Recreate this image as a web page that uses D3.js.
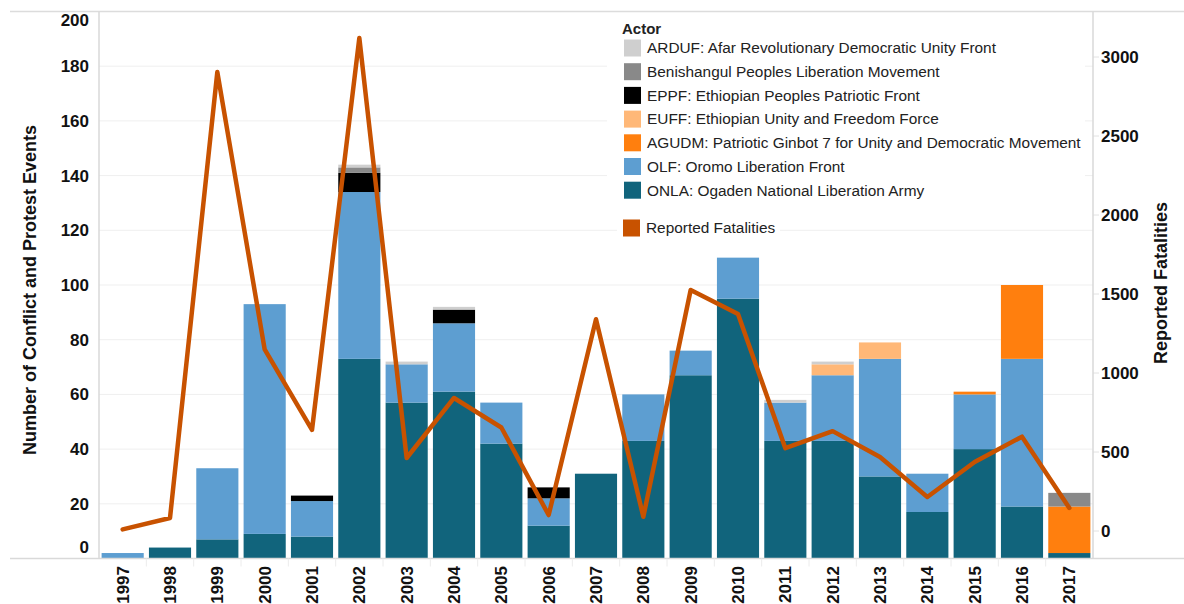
<!DOCTYPE html>
<html>
<head>
<meta charset="utf-8">
<script src="https://cdn.jsdelivr.net/npm/d3@7"></script>
<style>
  body { margin: 0; background: #fff; }
  svg { display: block; font-family: "Liberation Sans", Arial, sans-serif; }
</style>
</head>
<body>
<svg id="chart" width="1184" height="604"></svg>
<script>
// Data
var years = ["1997","1998","1999","2000","2001","2002","2003","2004","2005","2006","2007",
             "2008","2009","2010","2011","2012","2013","2014","2015","2016","2017"];
var onla  = [0, 4, 7, 9, 8, 73, 57, 61, 42, 12, 31, 43, 67, 95, 43, 43, 30, 17, 40, 19, 2];
var olf   = [2, 0, 26, 84, 13, 61, 14, 25, 15, 10, 0, 17, 9, 15, 14, 24, 43, 14, 20, 54, 0];
var agudm = [0, 0, 0, 0, 0, 0, 0, 0, 0, 0, 0, 0, 0, 0, 0, 0, 0, 0, 1, 27, 17];
var euff  = [0, 0, 0, 0, 0, 0, 0, 0, 0, 0, 0, 0, 0, 0, 0, 4, 6, 0, 0, 0, 0];
var eppf  = [0, 0, 0, 0, 2, 7, 0, 5, 0, 4, 0, 0, 0, 0, 0, 0, 0, 0, 0, 0, 0];
var bplm  = [0, 0, 0, 0, 0, 2, 0, 0, 0, 0, 0, 0, 0, 0, 0, 0, 0, 0, 0, 0, 5];
var arduf = [0, 0, 0, 0, 0, 1, 1, 1, 0, 0, 0, 0, 0, 0, 1, 1, 0, 0, 0, 0, 0];
var fatalities = [10, 82, 2905, 1150, 640, 3120, 462, 842, 655, 101, 1340, 90, 1525, 1373,
                  524, 632, 468, 215, 437, 597, 146];

var leftTicks = [0, 20, 40, 60, 80, 100, 120, 140, 160, 180, 200];
var rightTicks = [0, 500, 1000, 1500, 2000, 2500, 3000];

// stack order bottom -> top
var actors = [
  {key: "onla",  label: "ONLA: Ogaden National Liberation Army", color: "#11647c", values: onla},
  {key: "olf",   label: "OLF: Oromo Liberation Front", color: "#5d9ed1", values: olf},
  {key: "agudm", label: "AGUDM: Patriotic Ginbot 7 for Unity and Democratic Movement", color: "#ff7f0e", values: agudm},
  {key: "euff",  label: "EUFF: Ethiopian Unity and Freedom Force", color: "#ffb878", values: euff},
  {key: "eppf",  label: "EPPF: Ethiopian Peoples Patriotic Front", color: "#000000", values: eppf},
  {key: "bplm",  label: "Benishangul Peoples Liberation Movement", color: "#898989", values: bplm},
  {key: "arduf", label: "ARDUF: Afar Revolutionary Democratic Unity Front", color: "#cfcfcf", values: arduf}
];
var lineColor = "#c85200";

(function() {
  var rows = years.map(function(yr, i) {
    var r = {year: yr};
    actors.forEach(function(a) { r[a.key] = a.values[i]; });
    return r;
  });

  var svg = d3.select("#chart");
  var pLeft = 99, pRight = 1093, pTop = 11.5, pBottom = 558.5;

  var x = d3.scaleBand().domain(years).range([pLeft, pRight]).paddingInner(0.11).paddingOuter(0.055);
  var y = d3.scaleLinear().domain([0, 200]).range([pBottom, pTop]);
  var yR = d3.scaleLinear().domain([-174, 3288]).range([pBottom, pTop]);

  // frame line on top
  svg.append("line").attr("x1", 10).attr("x2", 1184).attr("y1", pTop).attr("y2", pTop)
    .attr("stroke", "#dcdcdc").attr("stroke-width", 1.5);

  // gridlines
  svg.append("g").selectAll("line").data(leftTicks.slice(1, -1)).join("line")
    .attr("x1", pLeft).attr("x2", pRight)
    .attr("y1", function(d) { return y(d); }).attr("y2", function(d) { return y(d); })
    .attr("stroke", "#efefef").attr("stroke-width", 1);

  // right axis small ticks
  svg.append("g").selectAll("line").data(rightTicks).join("line")
    .attr("x1", pRight).attr("x2", pRight + 6)
    .attr("y1", function(d) { return yR(d); }).attr("y2", function(d) { return yR(d); })
    .attr("stroke", "#e2e2e2");

  // bars
  var stack = d3.stack().keys(actors.map(function(a) { return a.key; }));
  var series = stack(rows);
  svg.append("g").selectAll("g").data(series).join("g")
    .attr("fill", function(d, i) { return actors[i].color; })
    .selectAll("rect").data(function(d) { return d; }).join("rect")
    .attr("x", function(d) { return x(d.data.year); })
    .attr("width", x.bandwidth())
    .attr("y", function(d) { return y(d[1]); })
    .attr("height", function(d) { return Math.max(0, y(d[0]) - y(d[1])); });

  // axis lines
  svg.append("line").attr("x1", pLeft).attr("x2", pLeft).attr("y1", pTop).attr("y2", pBottom)
    .attr("stroke", "#d9d9d9").attr("stroke-width", 1.5);
  svg.append("line").attr("x1", pRight).attr("x2", pRight).attr("y1", pTop).attr("y2", pBottom)
    .attr("stroke", "#d9d9d9").attr("stroke-width", 1.5);
  svg.append("line").attr("x1", 10).attr("x2", 1184).attr("y1", pBottom).attr("y2", pBottom)
    .attr("stroke", "#d9d9d9").attr("stroke-width", 1.5);

  // x separators
  svg.append("g").selectAll("line").data(years.slice(1)).join("line")
    .attr("x1", function(d) { return x(d) - x.step() * x.paddingInner() / 2; })
    .attr("x2", function(d) { return x(d) - x.step() * x.paddingInner() / 2; })
    .attr("y1", pBottom).attr("y2", pBottom + 8)
    .attr("stroke", "#ececec");

  // fatalities line
  var line = d3.line()
    .x(function(d, i) { return x(years[i]) + x.bandwidth() / 2; })
    .y(function(d) { return yR(d); });
  svg.append("path").datum(fatalities)
    .attr("d", line)
    .attr("fill", "none")
    .attr("stroke", lineColor)
    .attr("stroke-width", 4.5)
    .attr("stroke-linejoin", "round")
    .attr("stroke-linecap", "round");

  // left tick labels
  svg.append("g").selectAll("text").data(leftTicks).join("text")
    .attr("x", 89)
    .attr("y", function(d) { return Math.min(547, Math.max(20, y(d))); })
    .attr("dy", "0.35em")
    .attr("text-anchor", "end")
    .attr("font-size", 17).attr("font-weight", "bold").attr("fill", "#111")
    .text(function(d) { return d; });

  // right tick labels
  svg.append("g").selectAll("text").data(rightTicks).join("text")
    .attr("x", 1101)
    .attr("y", function(d) { return yR(d); })
    .attr("dy", "0.35em")
    .attr("text-anchor", "start")
    .attr("font-size", 17).attr("font-weight", "bold").attr("fill", "#111")
    .text(function(d) { return d; });

  // year labels
  svg.append("g").selectAll("text").data(years).join("text")
    .attr("transform", function(d) {
      return "translate(" + (x(d) + x.bandwidth() / 2 + 6) + "," + 566 + ") rotate(-90)";
    })
    .attr("text-anchor", "end")
    .attr("font-size", 17).attr("font-weight", "bold").attr("fill", "#111")
    .text(function(d) { return d; });

  // axis titles
  svg.append("text")
    .attr("transform", "translate(36,290) rotate(-90)")
    .attr("text-anchor", "middle")
    .attr("font-size", 18).attr("font-weight", "bold").attr("fill", "#111")
    .text("Number of Conflict and Protest Events");
  svg.append("text")
    .attr("transform", "translate(1167,283) rotate(-90)")
    .attr("text-anchor", "middle")
    .attr("font-size", 18).attr("font-weight", "bold").attr("fill", "#111")
    .text("Reported Fatalities");

  // legend
  var legend = svg.append("g");
  legend.append("rect").attr("x", 607).attr("y", 16).attr("width", 478).attr("height", 186).attr("fill", "#fff");
  legend.append("text").attr("x", 622).attr("y", 34)
    .attr("font-size", 15).attr("font-weight", "bold").attr("fill", "#222").text("Actor");
  var items = actors.slice().reverse();
  var li = legend.selectAll("g.item").data(items).join("g")
    .attr("class", "item")
    .attr("transform", function(d, i) { return "translate(624," + (48 + i * 23.7) + ")"; });
  li.append("rect").attr("x", 0).attr("y", -8.5).attr("width", 17).attr("height", 17)
    .attr("fill", function(d) { return d.color; });
  li.append("text").attr("x", 23).attr("y", 0).attr("dy", "0.35em")
    .attr("font-size", 15.4).attr("fill", "#222")
    .text(function(d) { return d.label; });

  var lf = legend.append("g").attr("transform", "translate(623,228)");
  lf.append("rect").attr("x", -6).attr("y", -11).attr("width", 163).attr("height", 22).attr("fill", "#fff");
  lf.append("rect").attr("x", 0).attr("y", -8.5).attr("width", 17).attr("height", 17).attr("fill", lineColor);
  lf.append("text").attr("x", 23).attr("y", 0).attr("dy", "0.35em")
    .attr("font-size", 15.4).attr("fill", "#222").text("Reported Fatalities");
})();
</script>
</body>
</html>
